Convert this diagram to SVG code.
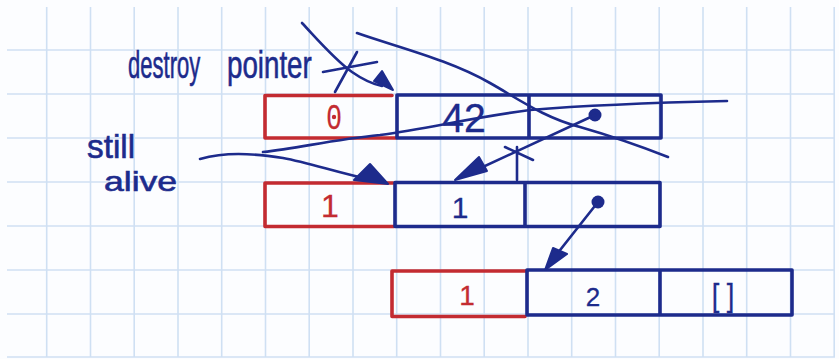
<svg xmlns="http://www.w3.org/2000/svg" width="839" height="359" viewBox="0 0 839 359">
  <style>
    .grid { stroke: #cfe0f3; stroke-width: 1.6; fill: none; }
    .blue { stroke: #1d2b8c; stroke-width: 3.6; fill: none; stroke-linecap: round; stroke-linejoin: round; }
    .red { stroke: #c32b31; stroke-width: 3.6; fill: none; stroke-linecap: round; stroke-linejoin: round; }
    .ink { stroke: #1d2b8c; stroke-width: 2.6; fill: none; stroke-linecap: round; stroke-linejoin: round; }
    .head { fill: #1d2b8c; stroke: #1d2b8c; stroke-width: 2; stroke-linejoin: round; }
    .dot { fill: #1d2b8c; }
    .tb { font-family: "Liberation Sans", "DejaVu Sans", sans-serif; fill: #1d2b8c; stroke: #1d2b8c; stroke-width: 0.3; }
    .tr { font-family: "Liberation Sans", "DejaVu Sans", sans-serif; fill: #c32b31; stroke: #c32b31; stroke-width: 0.3; }
    .hand { font-family: "Liberation Sans", "DejaVu Sans", sans-serif; fill: #1d2b8c; stroke: #1d2b8c; stroke-width: 0.6; }
  </style>

  <!-- paper -->
  <rect x="0" y="0" width="839" height="359" fill="#fcfdff"/>
  <g id="grid" class="grid">
    <path d="M46.7 7V357 M90.5 7V357 M134.2 7V357 M178 7V357 M221.7 7V357 M265.5 7V357 M309.2 7V357 M353 7V357 M396.7 7V357 M440.5 7V357 M484.2 7V357 M528 7V357 M571.7 7V357 M615.5 7V357 M659.2 7V357 M703 7V357 M746.7 7V357 M790.5 7V357 M834.2 7V357"/>
    <path d="M7 50H835 M7 94H835 M7 138H835 M7 182H835 M7 226H835 M7 270H835 M7 314H835 M7 357H835"/>
  </g>

  <!-- first cons cell: refcount 0, value 42, next pointer -->
  <g id="node-row1">
    <path class="red" d="M392 95.5H265 V138 H396"/>
    <path class="blue" d="M397 95H661 V138 H397 Z M529 95V138"/>
    <text class="tr" transform="translate(334 129) scale(0.75 1)" font-size="35" text-anchor="middle">0</text>
    <circle cx="334" cy="117" r="2.2" fill="#c32b31"/>
    <text class="tb" transform="translate(464 132) scale(0.98 1)" font-size="40" text-anchor="middle">42</text>
    <circle class="dot" cx="595" cy="115" r="6.5"/>
  </g>

  <!-- second cons cell: refcount 1, value 1, next pointer -->
  <g id="node-row2">
    <path class="red" d="M393 183H265 V226.5 H394"/>
    <path class="blue" d="M395 182.5H660 V226.5 H395 Z M525 182.5V226.5"/>
    <text class="tr" x="330" y="217" font-size="32" text-anchor="middle">1</text>
    <text class="tb" x="460" y="218" font-size="30" text-anchor="middle">1</text>
    <circle class="dot" cx="598" cy="202" r="6.5"/>
  </g>

  <!-- third cons cell: refcount 1, value 2, empty list -->
  <g id="node-row3">
    <path class="red" d="M527 271H392 V316.5 H525"/>
    <path class="blue" d="M527 270H792 V315 H527 Z M660 270V315"/>
    <text class="tr" x="467" y="305" font-size="28" text-anchor="middle">1</text>
    <text class="tb" x="593" y="306" font-size="26" text-anchor="middle">2</text>
    <text class="tb" transform="translate(723 306) scale(0.85 1)" font-size="32" text-anchor="middle">[ ]</text>
  </g>

  <!-- handwritten labels, narrowed or widened to the pen's lettering -->
  <g id="label-destroy">
    <text class="hand" transform="translate(128 78) scale(0.58 1)" font-size="38">destroy</text>
    <text class="hand" transform="translate(227 78) scale(0.73 1)" font-size="38">pointer</text>
  </g>
  <g id="label-still-alive">
    <text class="hand" transform="translate(87 158) scale(0.98 1)" font-size="34">still</text>
    <text class="hand" transform="translate(104 191) scale(1.27 1)" font-size="28">alive</text>
  </g>

  <g id="connectors">
    <!-- destroyed pointer into the first cell, crossed out -->
    <path class="ink" d="M302 23 C318 40 335 60 352 72 C362 79 372 84 382 86"/>
    <polygon class="head" points="393,90 374,81 382,71"/>
    <path class="ink" d="M323 72 L377 62 M357 52 L335 92"/>

    <!-- strike-through of the first cell -->
    <path class="ink" d="M357 33 C400 48 450 60 490 83 C520 100 545 118 580 127 C615 137 645 148 668 157"/>
    <path class="ink" d="M263 152 C300 148 330 140 380 135 C430 128 470 118 530 110 C590 105 640 103 727 101"/>

    <!-- still alive pointer into the second cell -->
    <path class="ink" d="M200 159 C225 152 250 153 283 158 C310 163 335 172 376 181"/>
    <polygon class="head" points="388,184 370,164 354,180"/>

    <!-- next pointer of the first cell, crossed out -->
    <path class="ink" d="M595 115 L472 172"/>
    <polygon class="head" points="455,180 479,157 487,171"/>
    <path class="ink" d="M517 147 V180 M505 147 L533 160"/>

    <!-- next pointer of the second cell -->
    <path class="ink" d="M598 202 L553 259"/>
    <polygon class="head" points="545,270 553,248 567,254"/>
  </g>
</svg>
